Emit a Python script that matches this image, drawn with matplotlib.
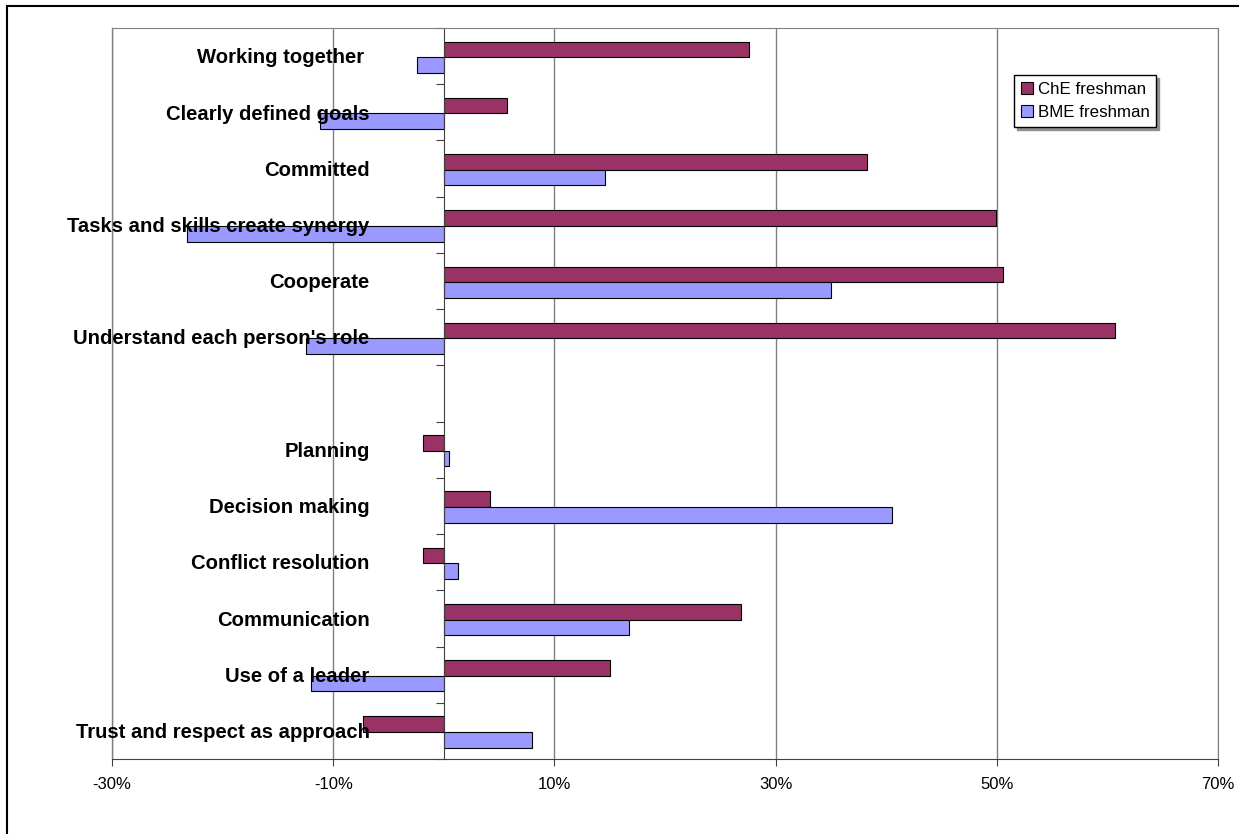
import numpy as np
import matplotlib.pyplot as plt
from matplotlib.patches import Rectangle
from matplotlib.ticker import FuncFormatter

plt.rcParams['font.family'] = ['Liberation Sans', 'DejaVu Sans']

categories = ["Working together ", "Clearly defined goals", "Committed",
              "Tasks and skills create synergy", "Cooperate",
              "Understand each person's role", "",
              "Planning", "Decision making", "Conflict resolution",
              "Communication", "Use of a leader", "Trust and respect as approach"]
che = [27.6, 5.7, 38.3, 49.9, 50.6, 60.7, np.nan, -1.9, 4.2, -1.9, 26.9, 15.0, -7.3]
bme = [-2.4, -11.2, 14.6, -23.2, 35.0, -12.5, np.nan, 0.45, 40.5, 1.3, 16.7, -12.0, 8.0]
series_names = ["ChE freshman", "BME freshman"]
colors = ["#993366", "#9999FF"]
xticks = [-30, -10, 10, 30, 50, 70]

W, H = 1239, 834
fig = plt.figure(figsize=(W / 100, H / 100), dpi=100)
ax = fig.add_axes([112 / W, (H - 759) / H, 1106 / W, 731 / H])

y = np.arange(len(categories)) + 0.02
h = 0.278
ax.barh(y - h / 2, che, height=h, color=colors[0], edgecolor="black", linewidth=0.8,
        label=series_names[0], zorder=2)
ax.barh(y + h / 2, bme, height=h, color=colors[1], edgecolor="black", linewidth=0.8,
        label=series_names[1], zorder=2)

ax.set_xlim(-30, 70)
ax.set_ylim(len(categories) - 0.5, -0.5)
ax.set_xticks(xticks)
ax.xaxis.set_major_formatter(FuncFormatter(lambda v, p: f"{v:.0f}%"))
ax.tick_params(axis="x", labelsize=12, length=5, direction="out", color="#404040", pad=8)
ax.set_axisbelow(True)
ax.grid(axis="x", color="#808080", linewidth=1)

# category axis sits at zero
ax.spines["left"].set_position(("data", 0))
ax.spines["left"].set_color("#404040")
ax.set_yticks(np.arange(len(categories) + 1) - 0.5)
ax.set_yticklabels([])
ax.tick_params(axis="y", length=6, color="#404040", direction="out")
ax.spines["bottom"].set_color("#404040")
ax.spines["top"].set_color("#808080")
ax.spines["right"].set_color("#808080")

# plot-area border on the left
ax.plot([0, 0], [0, 1], transform=ax.transAxes, color="#808080", lw=1, clip_on=False)

for i, c in enumerate(categories):
    ax.text(-6.7, i + 0.03, c, ha="right", va="center", fontsize=14.6, fontweight="bold", zorder=5)

ax.legend(loc="upper left", bbox_to_anchor=(0.8156, 0.936), fontsize=12.2, frameon=True,
          fancybox=False, edgecolor="black", framealpha=1, borderaxespad=0,
          handlelength=0.7, handleheight=0.7, handletextpad=0.3, labelspacing=0.5,
          borderpad=0.4, shadow={"color": "#909090", "alpha": 1})

fig.patches.append(Rectangle((7 / W, -0.5), 2, 1.5 - 6 / H, transform=fig.transFigure,
                             fill=False, edgecolor="black", linewidth=1.5))

fig.savefig("out.png", dpi=100)
